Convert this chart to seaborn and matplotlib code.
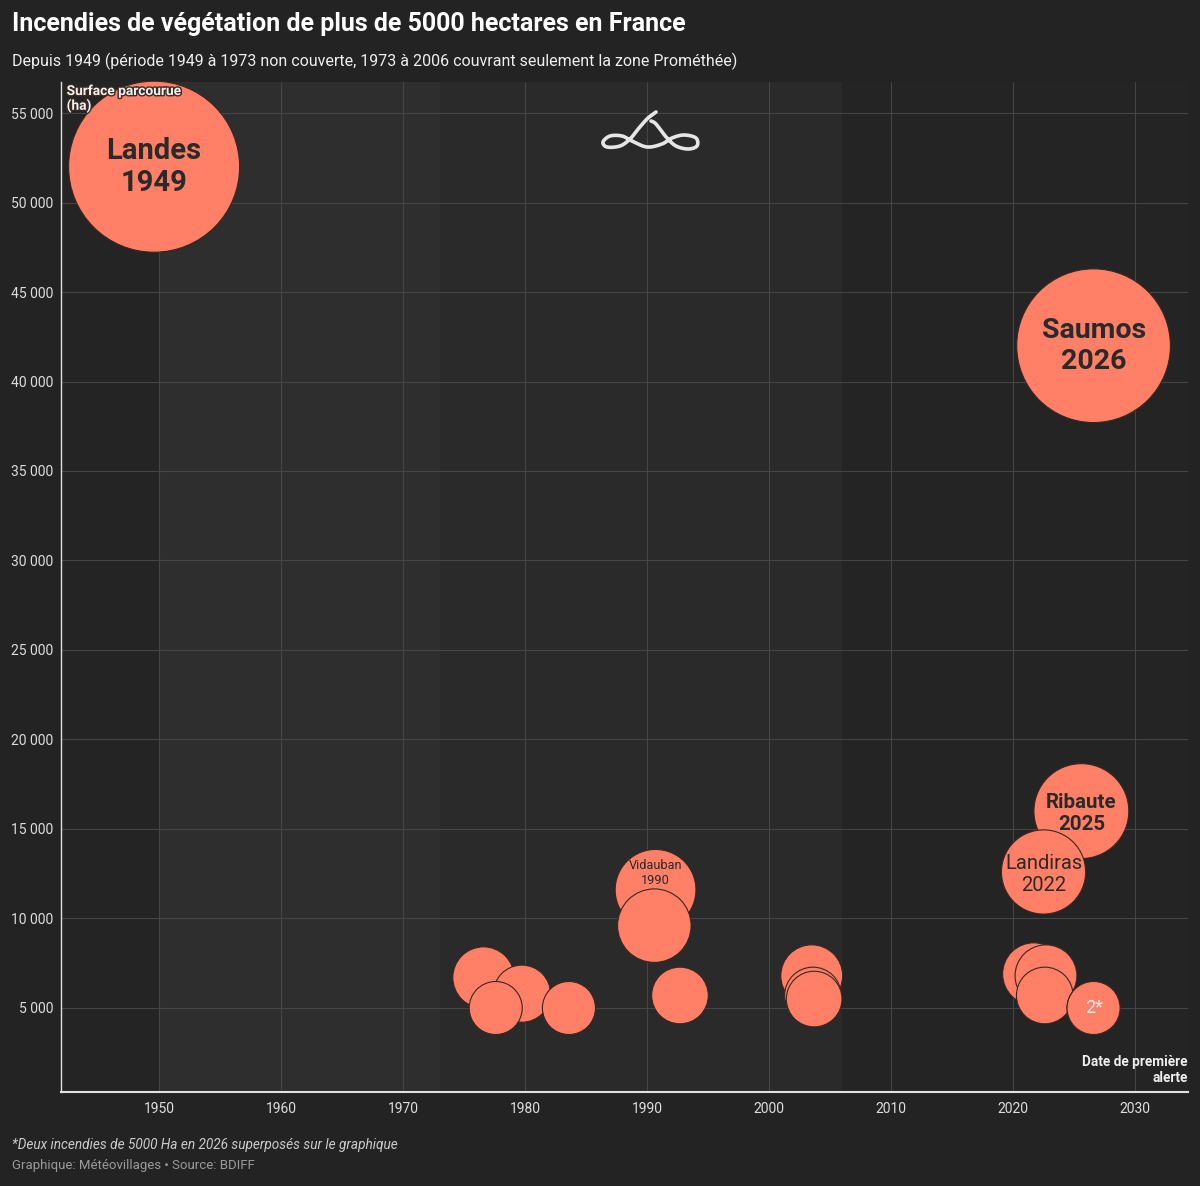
import numpy as np
import pandas as pd
import matplotlib.pyplot as plt
import matplotlib.patheffects as pe
import seaborn as sns

# incendies > 5000 ha (date de premiere alerte en annee decimale, surface en ha)
annee = [1949.6, 1976.6, 1977.6, 1979.75, 1983.6, 1990.7, 1990.6, 1992.7,
         2003.5, 2003.6, 2003.7, 2021.7, 2022.5, 2022.7, 2022.6, 2025.6,
         2026.6, 2026.6, 2026.6]
surface = [52000, 6700, 5000, 5800, 5000, 11600, 9600, 5700,
           6800, 5700, 5500, 6900, 12600, 6800, 5700, 16000,
           42000, 5000, 5000]
etiquette = ["Landes\n1949", "", "", "", "", "Vidauban\n1990", "", "",
             "", "", "", "", "Landiras\n2022", "", "", "Ribaute\n2025",
             "Saumos\n2026", "2*", ""]

x_ticks = list(range(1950, 2031, 10))
y_ticks = list(range(5000, 55001, 5000))

# periodes de couverture
non_couvert = (1950, 1973)
promethee = (1973, 2006)

BG = "#232323"
BUBBLE = "#ff8066"

sns.set_theme(style="dark")
plt.rcParams['font.family'] = ['Roboto', 'DejaVu Sans']

df = pd.DataFrame({"annee": annee, "surface": surface, "etiquette": etiquette})
df = df.sort_values("surface", ascending=False, kind="stable")

fig = plt.figure(figsize=(12, 11.86), dpi=100, facecolor=BG)
ax = fig.add_axes([61 / 1200, 94 / 1186, 1127 / 1200, 1010 / 1186])
ax.set_facecolor("#242424")

ax.axvspan(*non_couvert, color="#2e2e2e", zorder=0, lw=0)
ax.axvspan(*promethee, color="#2a2a2a", zorder=0, lw=0)

k = 0.2916  # s (pt^2) par hectare
vmin, vmax = min(surface), max(surface)
sns.scatterplot(data=df, x="annee", y="surface", size="surface",
                sizes=(k * vmin, k * vmax), size_norm=(vmin, vmax),
                color=BUBBLE, edgecolor="#3a2620", linewidth=0.8,
                legend=False, ax=ax, zorder=3, clip_on=False)

styles = {
    "Landes\n1949": dict(fontsize=21, fontweight="bold", color="#2a2a2a", dy=0),
    "Saumos\n2026": dict(fontsize=20.5, fontweight="bold", color="#2a2a2a", dy=0),
    "Ribaute\n2025": dict(fontsize=14.8, fontweight="bold", color="#2a2a2a", dy=-2),
    "Landiras\n2022": dict(fontsize=14.5, fontweight="normal", color="#2a2a2a", dy=-2),
    "Vidauban\n1990": dict(fontsize=9.2, fontweight="normal", color="#2a2a2a", dy=12),
    "2*": dict(fontsize=13, fontweight="normal", color="#fbeee6", dy=0),
}
for _, row in df[df["etiquette"] != ""].iterrows():
    st = styles[row["etiquette"]]
    ax.annotate(row["etiquette"], (row["annee"], row["surface"]),
                xytext=(0, st["dy"]), textcoords="offset points",
                ha="center", va="center", fontsize=st["fontsize"],
                fontweight=st["fontweight"], color=st["color"],
                linespacing=1.2, zorder=5)

ax.set_xlim(1941.97, 2034.34)
ax.set_ylim(307, 56732)
ax.set_xticks(x_ticks)
ax.set_yticks(y_ticks)
ax.set_yticklabels([f"{v:,}".replace(",", " ") for v in y_ticks])
ax.tick_params(axis="both", length=0, labelsize=10, labelcolor="#dddddd")
ax.tick_params(axis="y", pad=5.5)
ax.tick_params(axis="x", pad=7)
ax.set_xlabel("")
ax.set_ylabel("")
ax.grid(True, color="#454545", lw=0.8)
ax.set_axisbelow(True)
for s in ["top", "right"]:
    ax.spines[s].set_visible(False)
ax.spines["left"].set_color("#e0e0e0")
ax.spines["left"].set_linewidth(1.0)
ax.spines["bottom"].set_color("#e0e0e0")
ax.spines["bottom"].set_linewidth(1.5)

ax.text(0.005, 0.998, "Surface parcourue\n(ha)", transform=ax.transAxes,
        ha="left", va="top", fontsize=9.9, fontweight="bold", color="#f2f2f2",
        linespacing=1.0, zorder=6,
        path_effects=[pe.withStroke(linewidth=2, foreground="#3a2a26")])
ax.text(1.0, 0.022, "Date de première\nalerte", transform=ax.transAxes,
        ha="right", va="center", fontsize=9.8, fontweight="bold",
        color="#eeeeee", linespacing=1.15, zorder=6)

fig.text(12 / 1200, 1 - 24 / 1186, "Incendies de végétation de plus de 5000 hectares en France",
         ha="left", va="center", fontsize=18, fontweight="bold", color="#ffffff")
fig.text(12 / 1200, 1 - 61 / 1186,
         "Depuis 1949 (période 1949 à 1973 non couverte, 1973 à 2006 couvrant seulement la zone Prométhée)",
         ha="left", va="center", fontsize=11.55, color="#eeeeee")
fig.text(12 / 1200, 1 - 1145 / 1186,
         "*Deux incendies de 5000 Ha en 2026 superposés sur le graphique",
         ha="left", va="center", fontsize=9.8, style="italic", color="#cccccc")
fig.text(12 / 1200, 1 - 1166 / 1186, "Graphique: Météovillages • Source: BDIFF",
         ha="left", va="center", fontsize=9.5, color="#9a9a9a")

# logo (trace decoratif, coordonnees pixels de la figure)
logo = fig.add_axes([0, 0, 1, 1], facecolor="none")
logo.set_xlim(0, 1200)
logo.set_ylim(1186, 0)
logo.axis("off")
pts = np.array([(656, 112), (648, 118), (639, 128), (630, 139), (620, 146),
                (607, 147), (603, 142), (610, 136), (622, 136), (632, 141),
                (647, 147), (662, 144), (672, 138), (684, 135), (696, 138),
                (697, 146), (688, 149), (676, 146), (667, 138), (660, 129),
                (655, 123), (651, 121)], dtype=float)


def catmull(p, n=12):
    p = np.vstack([p[0], p, p[-1]])
    out = []
    for i in range(1, len(p) - 2):
        p0, p1, p2, p3 = p[i - 1], p[i], p[i + 1], p[i + 2]
        for t in np.linspace(0, 1, n, endpoint=False):
            out.append(0.5 * ((2 * p1) + (-p0 + p2) * t
                              + (2 * p0 - 5 * p1 + 4 * p2 - p3) * t ** 2
                              + (-p0 + 3 * p1 - 3 * p2 + p3) * t ** 3))
    out.append(p[-2])
    return np.array(out)


c = catmull(pts)
logo.plot(c[:, 0], c[:, 1], color="#e6e6e6", lw=2.6, solid_capstyle="round",
          solid_joinstyle="round")

fig.savefig("out.png", dpi=100, facecolor=BG)
